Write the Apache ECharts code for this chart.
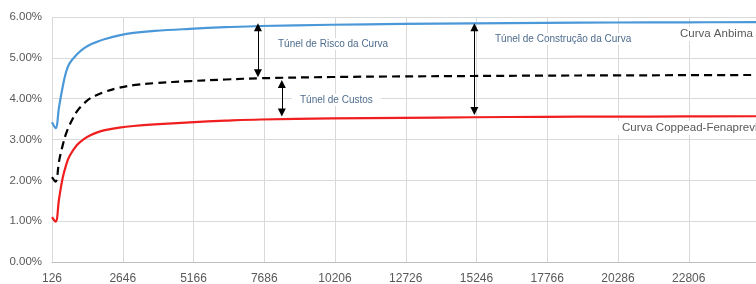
<!DOCTYPE html>
<html><head><meta charset="utf-8">
<script src="https://cdn.jsdelivr.net/npm/echarts@6/dist/echarts.min.js"></script>
<style>html,body{margin:0;padding:0;background:#fff}#c{width:756px;height:284px}</style>
</head><body><div id="c"></div>
<script>
// x values (days) at which the curves were read
const days    = [126, 252, 378, 504, 630, 756, 1008, 1260, 1512, 1764, 2016, 2520, 3024, 3780, 5040, 6300, 7560, 10080, 12600, 15120, 17640, 20160, 22680, 25200];
// Curva Anbima (%)
const anbima  = [3.42, 3.28, 3.80, 4.28, 4.66, 4.87, 5.08, 5.23, 5.33, 5.40, 5.46, 5.55, 5.61, 5.66, 5.71, 5.75, 5.78, 5.81, 5.83, 5.845, 5.855, 5.865, 5.87, 5.875];
// Curva de custos (dashed, %)
const custos  = [2.08, 1.97, 2.47, 2.85, 3.15, 3.36, 3.68, 3.88, 4.02, 4.10, 4.17, 4.27, 4.33, 4.38, 4.43, 4.47, 4.50, 4.53, 4.545, 4.555, 4.565, 4.57, 4.575, 4.58];
// Curva Coppead-Fenaprevi (%)
const coppead = [1.10, 0.99, 1.55, 2.05, 2.38, 2.60, 2.86, 3.01, 3.11, 3.18, 3.23, 3.29, 3.33, 3.37, 3.42, 3.46, 3.49, 3.515, 3.53, 3.545, 3.555, 3.56, 3.565, 3.57];

const xTickStart = 126, xTickStep = 2520, xEnd = 25200;
const yMin = 0, yMax = 6, yStep = 1;

// vertical double arrows: day, from %, to % (line ends; heads are centred on them)
const arrowDays  = [7460, 8312, 15170];
const arrowFrom  = [5.75, 4.36, 5.75];
const arrowTo    = [4.62, 3.66, 3.70];

const annotTexts = ['Túnel de Risco da Curva', 'Túnel de Custos', 'Túnel de Construção da Curva', 'Curva Anbima', 'Curva Coppead-Fenaprevi'];

const pairs = arr => days.map((d, i) => [d, arr[i]]);
const chart = echarts.init(document.getElementById('c'));
const lblFont = 'Liberation Sans';

const markData = arrowDays.map((d, i) => [{coord: [d, arrowFrom[i]]}, {coord: [d, arrowTo[i]]}]);

const tStyle = (text, fill, size) => ({text, fill, font: size + 'px "Liberation Sans"', align: 'left', verticalAlign: 'middle', backgroundColor: '#fff', padding: [1, 8]});

chart.setOption({
  animation: false,
  grid: {left: 52, right: 0, top: 17, bottom: 22, containLabel: false, outerBoundsMode: 'none'},
  xAxis: {
    type: 'value', min: xTickStart, max: xEnd, interval: xTickStep,
    axisLine: {show: true, lineStyle: {color: '#bfbfbf', width: 1}},
    axisTick: {show: false},
    splitLine: {show: true, lineStyle: {color: '#d9d9d9', width: 1}},
    axisLabel: {color: '#595959', fontSize: 12, fontFamily: lblFont, margin: 11, showMaxLabel: false, formatter: v => String(v)}
  },
  yAxis: {
    type: 'value', min: yMin, max: yMax, interval: yStep,
    axisLine: {show: false}, axisTick: {show: false},
    splitLine: {show: true, lineStyle: {color: '#d9d9d9', width: 1}},
    axisLabel: {color: '#595959', fontSize: 11.5, fontFamily: lblFont, margin: 10, formatter: v => v.toFixed(2) + '%'}
  },
  series: [
    {type: 'line', name: 'Curva Anbima', data: pairs(anbima), showSymbol: false, smooth: 0.4,
     lineStyle: {color: '#4b98d8', width: 2.2}, z: 3},
    {type: 'line', name: 'Custos', data: pairs(custos), showSymbol: false, smooth: 0.4,
     lineStyle: {color: '#000', width: 2.2, type: [8, 5]}, z: 3,
     markLine: {silent: true, symbol: ['triangle', 'triangle'], symbolSize: 8,
       lineStyle: {color: '#000', width: 1, type: 'solid'}, label: {show: false}, emphasis: {disabled: true},
       data: markData}},
    {type: 'line', name: 'Curva Coppead-Fenaprevi', data: pairs(coppead), showSymbol: false, smooth: 0.4,
     lineStyle: {color: '#f01e1e', width: 2.2}, z: 3}
  ],
  graphic: [
    {type: 'text', x: 270, y: 44, z: 1, style: tStyle(annotTexts[0], '#4e6c8e', 10)},
    {type: 'text', x: 292, y: 100, z: 1, style: tStyle(annotTexts[1], '#4e6c8e', 10)},
    {type: 'text', x: 487, y: 39, z: 1, style: tStyle(annotTexts[2], '#4e6c8e', 10)},
    {type: 'text', x: 672, y: 34, z: 1, style: tStyle(annotTexts[3], '#595959', 11.5)},
    {type: 'text', x: 614, y: 128, z: 1, style: tStyle(annotTexts[4], '#595959', 11.5)}
  ]
});
</script>
</body></html>
